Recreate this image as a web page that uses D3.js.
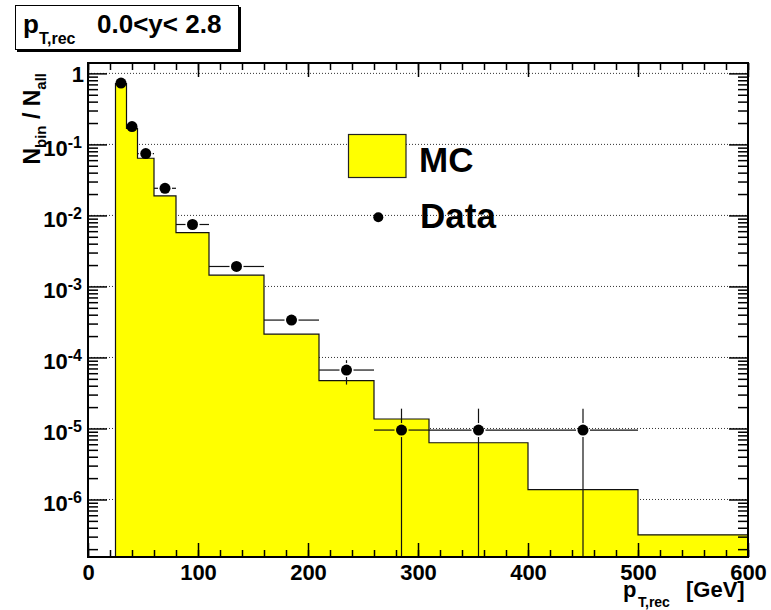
<!DOCTYPE html>
<html>
<head>
<meta charset="utf-8">
<script src="https://cdn.jsdelivr.net/npm/d3@7"></script>
<style>
  body { margin: 0; background: #fff; }
  svg { display: block; }
  text { font-family: "Liberation Sans", Arial, Helvetica, sans-serif; font-weight: bold; fill: #000; }
</style>
</head>
<body>
<svg id="chart" width="771" height="610"></svg>
<script>
// MC histogram: variable-width bins in reconstructed pT [GeV]
const binEdges = [25, 35, 45, 60, 80, 110, 160, 210, 260, 310, 400, 500, 600];
const mcValues = [0.716, 0.168, 0.0638, 0.0188, 0.00574, 0.00144, 2.13e-4, 4.71e-5, 1.36e-5, 6.3e-6, 1.38e-6, 3.18e-7];

// Data points (bin centre, bin range, fraction, statistical error)
const dataX      = [30, 40, 52.5, 70, 95, 135, 185, 235, 285, 355, 450];
const dataLow    = [25, 35, 45, 60, 80, 110, 160, 210, 260, 310, 400];
const dataHigh   = [35, 45, 60, 80, 110, 160, 210, 260, 310, 400, 500];
const dataValues = [0.73, 0.178, 0.0742, 0.0241, 0.00745, 0.00191, 3.36e-4, 6.65e-5, 9.5e-6, 9.5e-6, 9.5e-6];
const dataErrors = [0.0027, 0.0013, 0.00084, 0.00048, 0.00027, 0.00014, 5.7e-5, 2.5e-5, 9.5e-6, 9.5e-6, 9.5e-6];

// Axis ticks and labels
const xMajorTicks = [0, 100, 200, 300, 400, 500, 600];
const xMinorTicks = d3.range(0, 601, 20);
const yDecadeExponents = [0, -1, -2, -3, -4, -5, -6];
const legendLabels = ["MC", "Data"];

const svg = d3.select("#chart");
const frame = { left: 88, right: 748, top: 63, bottom: 557 };

const x = d3.scaleLinear().domain([0, 600]).range([frame.left, frame.right]);
const y = d3.scaleLog().domain([1.55e-7, 1.4]).range([frame.bottom, frame.top]);

const yDecades = yDecadeExponents.map(e => Math.pow(10, e));
const yMinor = [];
for (let e = -7; e <= 0; e++) {
  for (let m = 2; m <= 9; m++) {
    const v = m * Math.pow(10, e);
    if (v >= y.domain()[0] && v <= y.domain()[1]) yMinor.push(v);
  }
}

svg.append("defs").append("clipPath").attr("id", "plotClip")
  .append("rect")
  .attr("x", frame.left).attr("y", frame.top)
  .attr("width", frame.right - frame.left).attr("height", frame.bottom - frame.top);

const plot = svg.append("g").attr("clip-path", "url(#plotClip)");

// dotted horizontal grid at each decade
plot.append("g").selectAll("line").data(yDecades).join("line")
  .attr("x1", frame.left).attr("x2", frame.right)
  .attr("y1", d => y(d)).attr("y2", d => y(d))
  .attr("stroke", "#333").attr("stroke-width", 1).attr("stroke-dasharray", "1,2");

// MC histogram as filled steps
const steps = binEdges.slice(0, -1).map((e, i) => ({ x: e, v: mcValues[i] }));
steps.push({ x: binEdges[binEdges.length - 1], v: mcValues[mcValues.length - 1] });

plot.append("path")
  .datum(steps)
  .attr("d", d3.area().curve(d3.curveStepAfter)
    .x(d => x(d.x)).y0(frame.bottom).y1(d => y(d.v)))
  .attr("fill", "#ffff00");

const outline = [{ x: binEdges[0], v: null }].concat(steps, [{ x: binEdges[binEdges.length - 1], v: null }]);
plot.append("path")
  .datum(outline)
  .attr("d", d3.line().curve(d3.curveStepAfter)
    .x(d => x(d.x)).y(d => d.v === null ? frame.bottom : y(d.v)))
  .attr("fill", "none").attr("stroke", "#111").attr("stroke-width", 1.2);

// data error bars and markers
const r = 5.5, gap = 1.5;
const errG = plot.append("g").attr("stroke", "#111").attr("stroke-width", 1.2);
dataX.forEach((cx, i) => {
  const px = x(cx), py = y(dataValues[i]);
  const xl = x(dataLow[i]), xh = x(dataHigh[i]);
  if (px - r - gap > xl) errG.append("line").attr("x1", xl).attr("x2", px - r - gap).attr("y1", py).attr("y2", py);
  if (xh > px + r + gap) errG.append("line").attr("x1", px + r + gap).attr("x2", xh).attr("y1", py).attr("y2", py);
  const up = y(dataValues[i] + dataErrors[i]);
  const lowV = dataValues[i] - dataErrors[i];
  const dn = lowV > 0 ? y(lowV) : frame.bottom;
  if (py - r - gap > up) errG.append("line").attr("x1", px).attr("x2", px).attr("y1", up).attr("y2", py - r - gap);
  if (dn > py + r + gap) errG.append("line").attr("x1", px).attr("x2", px).attr("y1", py + r + gap).attr("y2", dn);
});
plot.append("g").selectAll("circle").data(dataX).join("circle")
  .attr("cx", d => x(d)).attr("cy", (d, i) => y(dataValues[i])).attr("r", r)
  .attr("fill", "#000");

// axes: ticks point inward on all four sides
function styleAxis(g) {
  g.select(".domain").remove();
  g.selectAll(".tick line").attr("stroke", "#000").attr("stroke-width", 1.5);
}
svg.append("g").attr("transform", `translate(0,${frame.bottom})`)
  .call(d3.axisBottom(x).tickValues(xMinorTicks).tickSize(-7).tickFormat("")).call(styleAxis);
const xAxisG = svg.append("g").attr("transform", `translate(0,${frame.bottom})`)
  .call(d3.axisBottom(x).tickValues(xMajorTicks).tickSize(-14).tickFormat(d3.format("d"))).call(styleAxis);
xAxisG.selectAll(".tick text")
  .attr("y", 23).attr("dy", null)
  .attr("font-size", 22).attr("font-family", null).attr("fill", "#000");

svg.append("g").attr("transform", `translate(0,${frame.top})`)
  .call(d3.axisTop(x).tickValues(xMinorTicks).tickSize(-7).tickFormat("")).call(styleAxis);
svg.append("g").attr("transform", `translate(0,${frame.top})`)
  .call(d3.axisTop(x).tickValues(xMajorTicks).tickSize(-14).tickFormat("")).call(styleAxis);

svg.append("g").attr("transform", `translate(${frame.left},0)`)
  .call(d3.axisLeft(y).tickValues(yMinor).tickSize(-10).tickFormat("")).call(styleAxis);
const yAxisG = svg.append("g").attr("transform", `translate(${frame.left},0)`)
  .call(d3.axisLeft(y).tickValues(yDecades).tickSize(-19).tickFormat("")).call(styleAxis);
yAxisG.selectAll(".tick text").remove();
yAxisG.selectAll(".tick").each(function(d, i) {
  const e = yDecadeExponents[i];
  const t = d3.select(this).append("text").attr("text-anchor", "end");
  if (e === 0) {
    t.attr("x", -4).attr("y", 8.5).attr("font-size", 22).text("1");
  } else {
    t.attr("x", -6).attr("y", 11).attr("font-size", 22);
    t.append("tspan").text("10");
    t.append("tspan").attr("font-size", 16).attr("dy", -8).text(String(e));
  }
});

svg.append("g").attr("transform", `translate(${frame.right},0)`)
  .call(d3.axisRight(y).tickValues(yMinor).tickSize(-10).tickFormat("")).call(styleAxis);
svg.append("g").attr("transform", `translate(${frame.right},0)`)
  .call(d3.axisRight(y).tickValues(yDecades).tickSize(-19).tickFormat("")).call(styleAxis);

// frame
svg.append("rect")
  .attr("x", frame.left).attr("y", frame.top)
  .attr("width", frame.right - frame.left).attr("height", frame.bottom - frame.top)
  .attr("fill", "none").attr("stroke", "#000").attr("stroke-width", 2);

// x-axis title
const xTitle = svg.append("text").attr("y", 597).attr("font-size", 22);
xTitle.append("tspan").attr("x", 623).text("p");
xTitle.append("tspan").attr("x", 638).attr("dy", 10).attr("font-size", 14).text("T,rec");
xTitle.append("tspan").attr("x", 686).attr("dy", -10).text("[GeV]");

// y-axis title
const yTitle = svg.append("text")
  .attr("transform", "translate(40,73) rotate(-90)")
  .attr("text-anchor", "end").attr("font-size", 23);
yTitle.append("tspan").text("N");
yTitle.append("tspan").attr("font-size", 15).attr("dy", 6).text("bin");
yTitle.append("tspan").attr("dy", -6).text(" / N");
yTitle.append("tspan").attr("font-size", 15).attr("dy", 6).text("all");

// title box with shadow
svg.append("rect").attr("x", 17).attr("y", 7).attr("width", 224).attr("height", 45).attr("fill", "#000");
svg.append("rect").attr("x", 15.5).attr("y", 5.5).attr("width", 223).attr("height", 44)
  .attr("fill", "#fff").attr("stroke", "#000").attr("stroke-width", 1);
const title = svg.append("text").attr("y", 33).attr("font-size", 26);
title.append("tspan").attr("x", 23).text("p");
title.append("tspan").attr("x", 39).attr("dy", 11).attr("font-size", 16).text("T,rec");
title.append("tspan").attr("x", 97).attr("dy", -11).text("0.0<y< 2.8");

// legend
const legend = svg.append("g");
legend.append("rect").attr("x", 348.5).attr("y", 134.5).attr("width", 57.5).attr("height", 43)
  .attr("fill", "#ffff00").attr("stroke", "#222").attr("stroke-width", 1.2);
legend.append("circle").attr("cx", 378.3).attr("cy", 217.3).attr("r", 5).attr("fill", "#000");
legend.append("text").attr("x", 419).attr("y", 171.5).attr("font-size", 35).text(legendLabels[0]);
legend.append("text").attr("x", 420).attr("y", 228.3).attr("font-size", 35).text(legendLabels[1]);
</script>
</body>
</html>
